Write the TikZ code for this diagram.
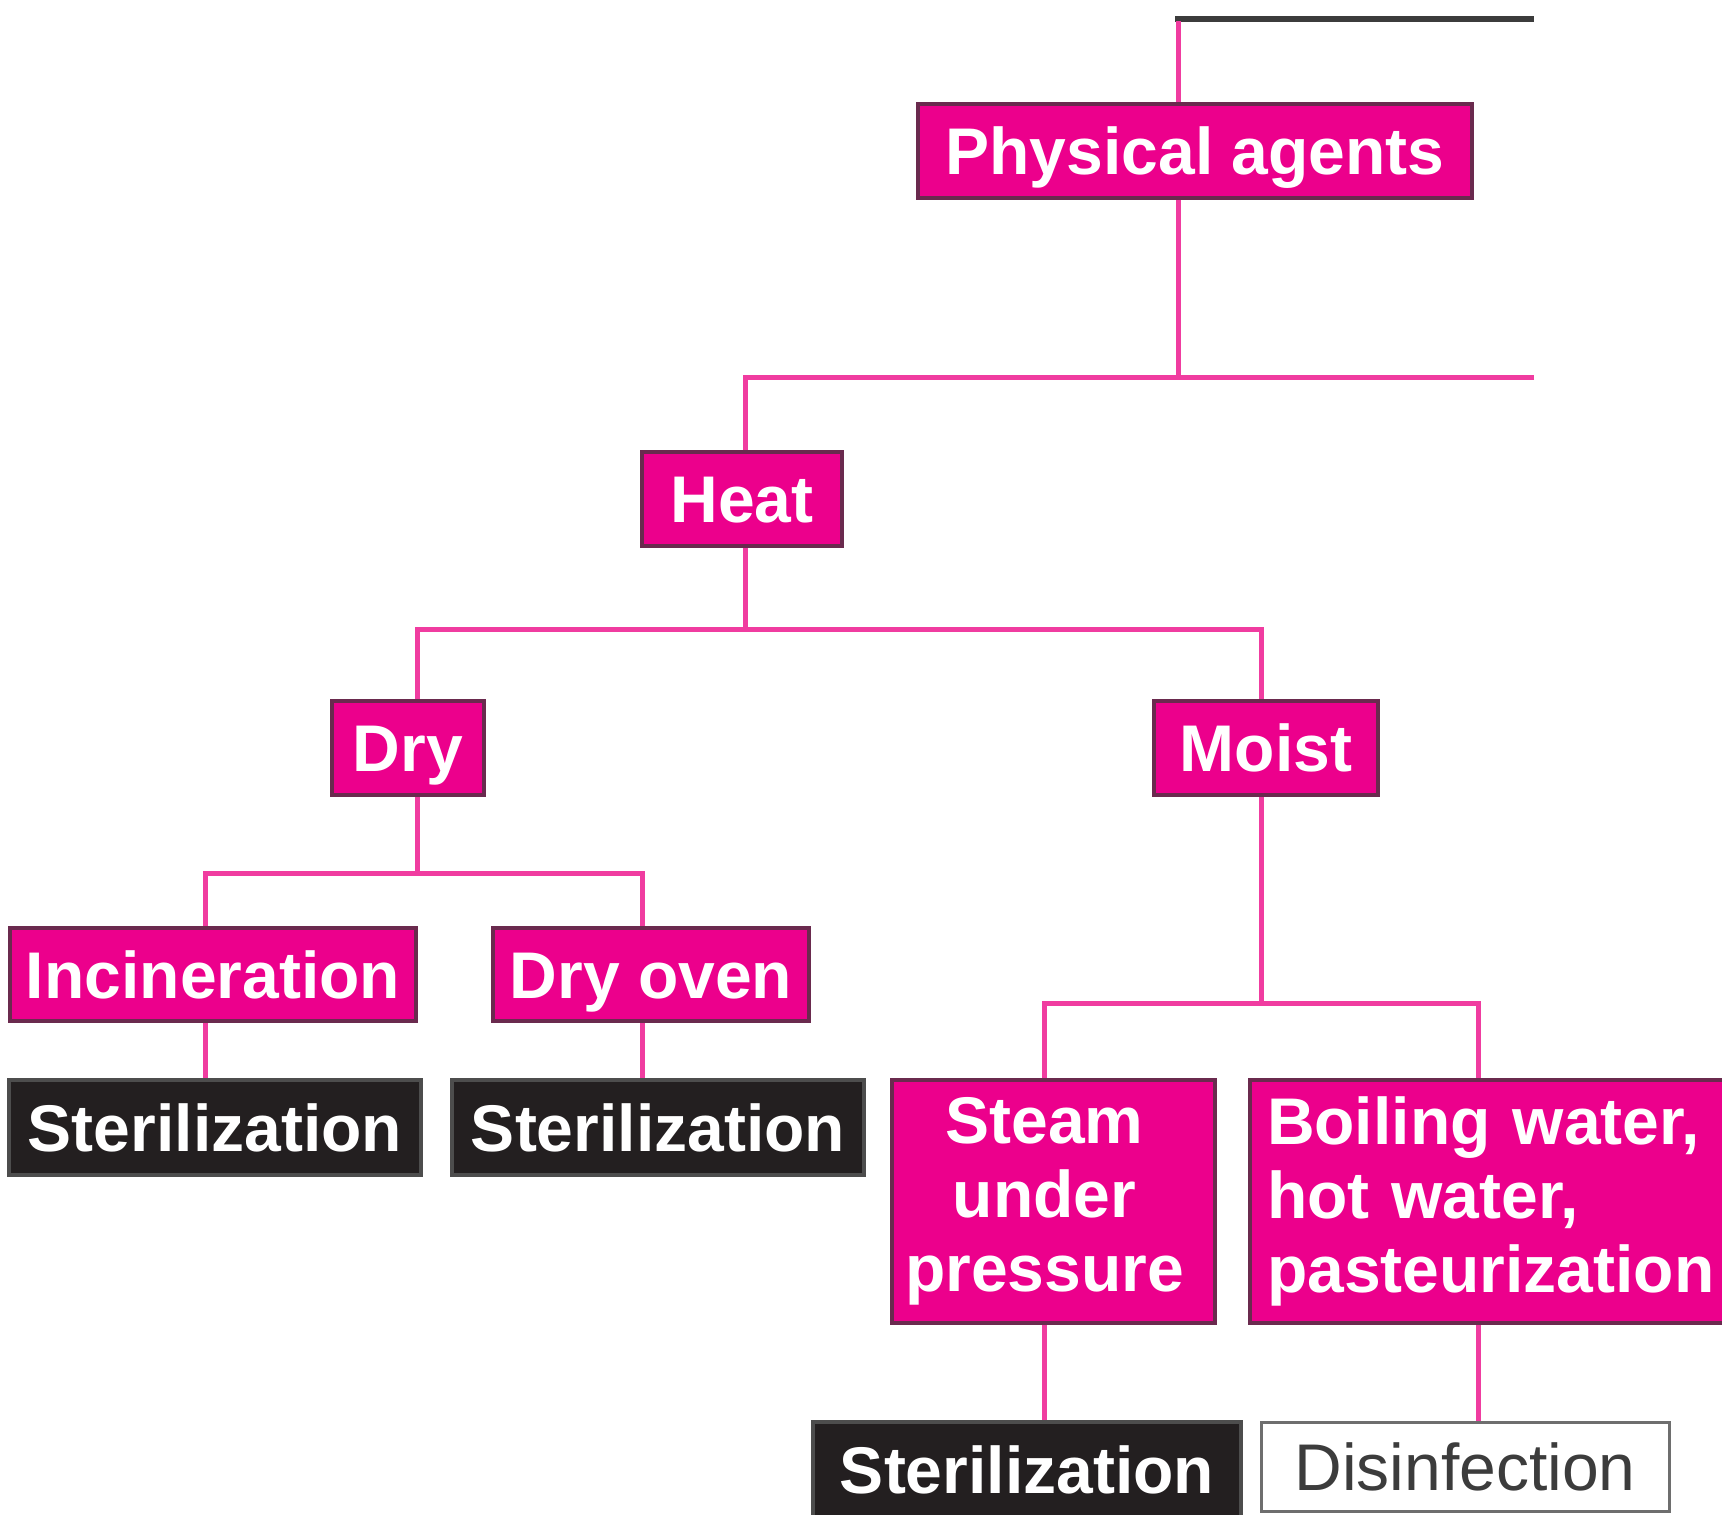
\documentclass[tikz,border=0pt]{standalone}
\usepackage{fontspec}
\setmainfont{Liberation Sans}
\definecolor{mag}{HTML}{EC008C}
\definecolor{magline}{HTML}{F03CA0}
\definecolor{magedge}{HTML}{6A2A4E}
\definecolor{inkblack}{HTML}{231F20}
\definecolor{darkline}{HTML}{3C3C3C}
\definecolor{greyedge}{HTML}{6E6E6E}
\tikzset{
  boxbase/.style={rectangle, inner sep=0pt, line width=4pt,
    font=\fontsize{66}{74}\selectfont},
  oneline/.style={text height=47.5pt, text depth=0pt},
  pinkbox/.style={boxbase, fill=mag, draw=magedge, text=white, font=\fontsize{66}{74}\selectfont\bfseries},
  blackbox/.style={boxbase, oneline, fill=inkblack, draw=greyedge!70!black, text=white, font=\fontsize{66}{74}\selectfont\bfseries},
  whitebox/.style={boxbase, oneline, fill=white, draw=greyedge, text=darkline},
  link/.style={draw=magline, line width=5pt},
  topline/.style={draw=darkline, line width=6pt}
}
\newcommand{\padr}{\rule{18pt}{0pt}}
\begin{document}
\begin{tikzpicture}[x=1pt,y=-1pt]
\useasboundingbox (0,0) rectangle (1722,1515);
% nodes
\node[pinkbox, oneline, minimum width=554pt, minimum height=94pt] (pa) at (1195,151) {Physical agents};
\node[pinkbox, oneline, minimum width=200pt, minimum height=94pt] (heat) at (742,499) {Heat};
\node[pinkbox, oneline, minimum width=152pt, minimum height=94pt] (dry) at (408,748) {Dry};
\node[pinkbox, oneline, minimum width=224pt, minimum height=94pt] (moist) at (1266,748) {Moist};
\node[pinkbox, oneline, minimum width=406pt, minimum height=93pt] (inc) at (213,974.5) {Incineration};
\node[pinkbox, oneline, minimum width=316pt, minimum height=93pt] (oven) at (651,974.5) {Dry oven};
\node[blackbox, minimum width=412pt, minimum height=95pt] (ster1) at (215,1127.5) {Sterilization};
\node[blackbox, minimum width=412pt, minimum height=95pt] (ster2) at (658,1127.5) {Sterilization};
\node[pinkbox, align=center, minimum width=323pt, minimum height=243pt] (steam) at (1053.5,1201.5) {Steam\padr\\under\padr\\pressure\padr};
\node[pinkbox, align=left, anchor=west, inner xsep=17pt, text width=470pt, minimum height=243pt] (boil) at (1248,1201.5) {Boiling water,\\hot water,\\pasteurization};
\node[blackbox, minimum width=428pt, minimum height=95pt] (ster3) at (1027,1469.5) {Sterilization};
\node[whitebox, line width=3pt, minimum width=408pt, minimum height=89pt] (dis) at (1465,1466.5) {Disinfection};
% junction coordinates
\coordinate (tl) at (1175,19);
\coordinate (tr) at (1534,19);
\coordinate (t0) at (1178,21);
\coordinate (j1) at (1178,377);
\coordinate (j1r) at (1534,377);
\coordinate (j2) at (745,629);
\coordinate (j3) at (417,873);
\coordinate (j4) at (1261,1003);
\coordinate (ix) at (205,873);
\coordinate (ox) at (642,873);
\coordinate (sx) at (1044,1003);
\coordinate (bx) at (1478,1003);
% connectors
\draw[topline] (tl) -- (tr);
\draw[link] (t0) -- (t0 |- pa.north);
\draw[link] (pa.south -| j1) -- (j1);
\draw[link] (j1r) -- (j1 -| j2) -- (j2 |- heat.north);
\draw[link] (heat.south -| j2) -- (j2);
\draw[link] (dry.north -| j3) -- (j3 |- j2) -- (j4 |- j2) -- (moist.north -| j4);
\draw[link] (dry.south -| j3) -- (j3);
\draw[link] (inc.north -| ix) -- (ix) -- (ox) -- (oven.north -| ox);
\draw[link] (inc.south -| ix) -- (ster1.north -| ix);
\draw[link] (oven.south -| ox) -- (ster2.north -| ox);
\draw[link] (moist.south -| j4) -- (j4);
\draw[link] (steam.north -| sx) -- (sx) -- (bx) -- (boil.north -| bx);
\draw[link] (steam.south -| sx) -- (ster3.north -| sx);
\draw[link] (boil.south -| bx) -- (dis.north -| bx);
\end{tikzpicture}
\end{document}
